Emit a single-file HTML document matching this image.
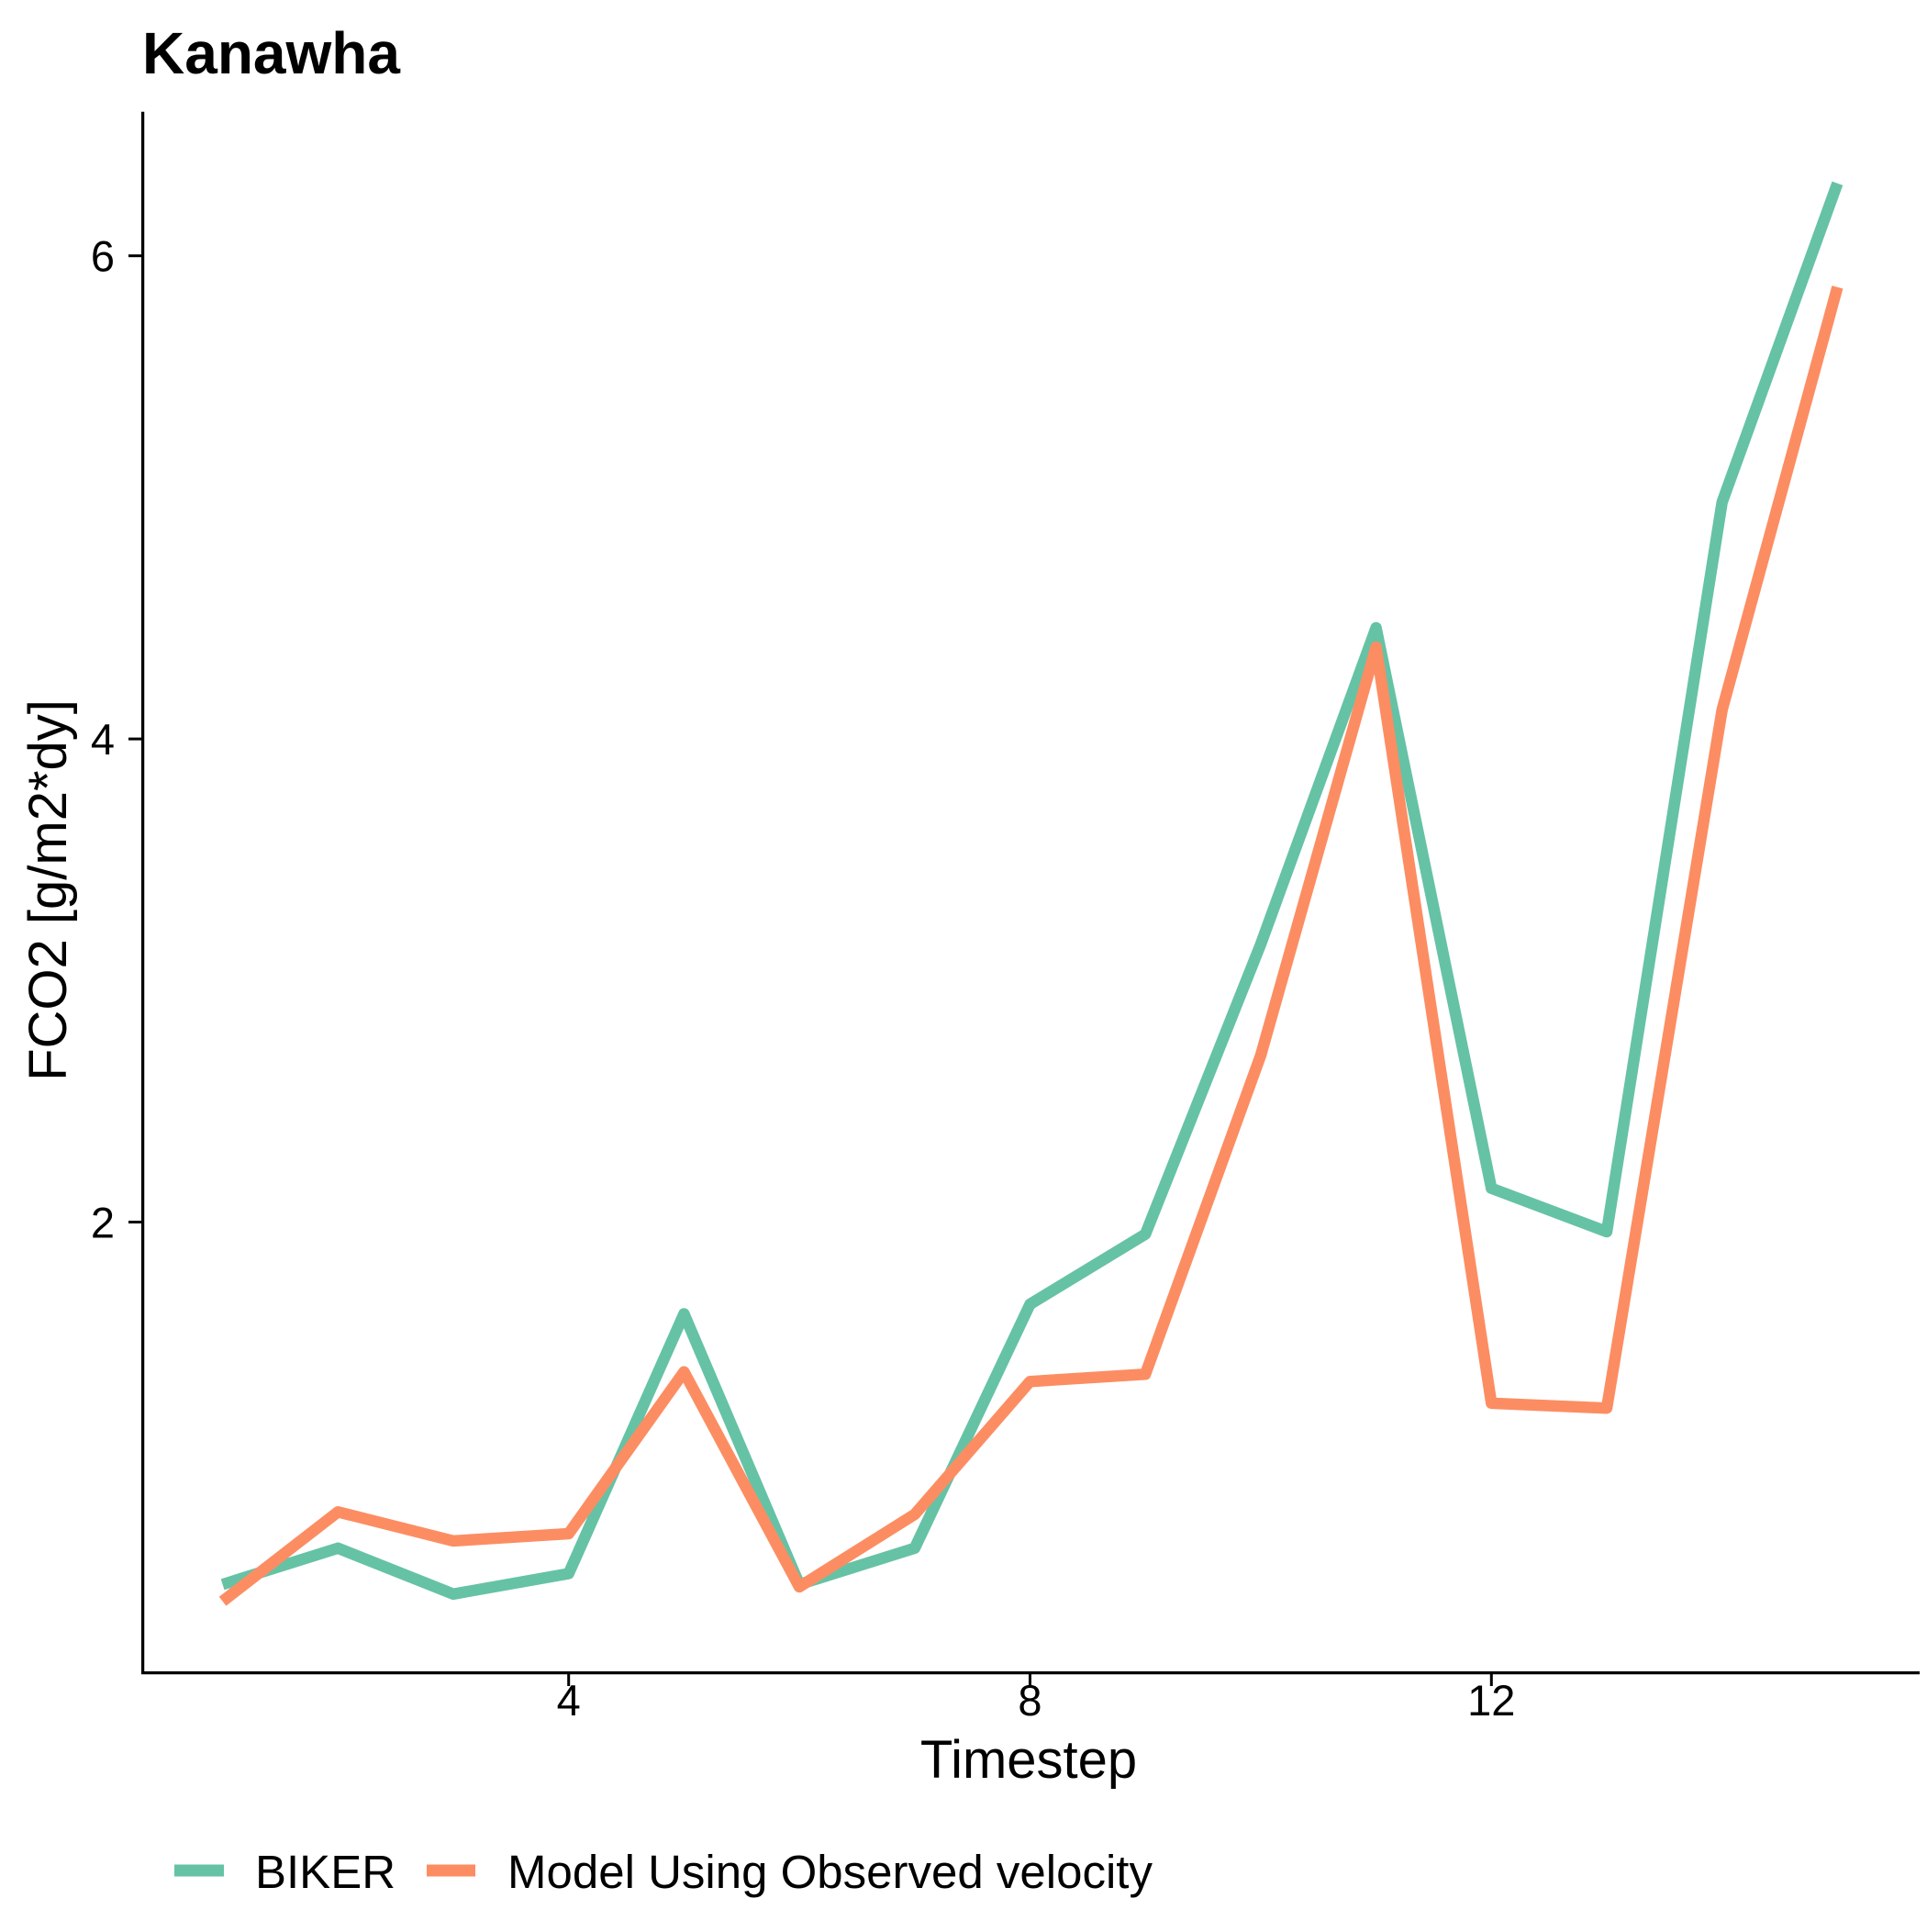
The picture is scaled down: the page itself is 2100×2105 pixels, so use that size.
<!DOCTYPE html>
<html><head><meta charset="utf-8"><style>
html,body{margin:0;padding:0;background:#fff;}
svg text{font-family:"Liberation Sans",Arial,sans-serif;fill:#000;}
</style></head><body>
<svg id="chart" width="2100" height="2100" viewBox="0 0 2100 2100" xmlns="http://www.w3.org/2000/svg">
<rect width="2100" height="2100" fill="#fff"/>
<text x="155" y="80" font-size="64" font-weight="bold">Kanawha</text>
<g id="plot"></g>
<text x="1121" y="1937" font-size="58" text-anchor="middle">Timestep</text>
<text transform="translate(72,970) rotate(-90)" font-size="58" text-anchor="middle">FCO2 [g/m2*dy]</text>
<g>
<line x1="190" y1="2038" x2="244" y2="2038" stroke="#66C2A5" stroke-width="13"/>
<text x="278" y="2057" font-size="51">BIKER</text>
<line x1="465" y1="2038" x2="518" y2="2038" stroke="#FC8D62" stroke-width="13"/>
<text x="553" y="2057" font-size="51">Model Using Observed velocity</text>
</g>
</svg>
<script>
const timesteps = [1,2,3,4,5,6,7,8,9,10,11,12,13,14,15];
const bikerValues = [0.50,0.65,0.46,0.545,1.62,0.50,0.65,1.66,1.95,3.15,4.46,2.14,1.96,4.98,6.30];
const modelValues = [0.43,0.80,0.68,0.71,1.38,0.49,0.79,1.34,1.37,2.69,4.38,1.25,1.23,4.12,5.87];
const xTicks = [4,8,12];
const yTicks = [2,4,6];
const xTickLabels = ["4","8","12"];
const yTickLabels = ["2","4","6"];

const NS = "http://www.w3.org/2000/svg";
const g = document.getElementById('plot');
function xS(v){return 619.7 + (v-4)*125.7;}
function yS(v){return 1331.5 - (v-2)*263.2;}
function mk(tag, attrs){const e=document.createElementNS(NS,tag);for(const k in attrs)e.setAttribute(k,attrs[k]);g.appendChild(e);return e;}

let ax = mk('line',{x1:155.6,y1:121.8,x2:155.6,y2:1824,stroke:'#000','stroke-width':3.3});


ax = mk('line',{x1:154,y1:1822.6,x2:2092,y2:1822.6,stroke:'#000','stroke-width':3.3});



xTicks.forEach((t,i)=>{
  const tk = mk('line',{x1:xS(t),y1:1822,x2:xS(t),y2:1837,stroke:'#000','stroke-width':3});
  
  
  const tl = mk('text',{x:xS(t),y:1869,'font-size':47,'text-anchor':'middle'});
  tl.textContent = xTickLabels[i];
  
  
});
yTicks.forEach((t,i)=>{
  const tk = mk('line',{x1:140,y1:yS(t),x2:156,y2:yS(t),stroke:'#000','stroke-width':3});
  
  
  const tl = mk('text',{x:125,y:yS(t)+17,'font-size':47,'text-anchor':'end'});
  tl.textContent = yTickLabels[i];
  
  
});

function drawSeries(vals,color,name){
  const pts = timesteps.map((t,i)=>xS(t).toFixed(1)+','+yS(vals[i]).toFixed(1)).join(' ');
  const pl = mk('polyline',{points:pts,fill:'none',stroke:color,'stroke-width':12.5,'stroke-linejoin':'round','stroke-linecap':'butt'});
  
  
}
drawSeries(bikerValues,'#66C2A5','biker-line');
drawSeries(modelValues,'#FC8D62','model-line');
</script>
</body></html>
